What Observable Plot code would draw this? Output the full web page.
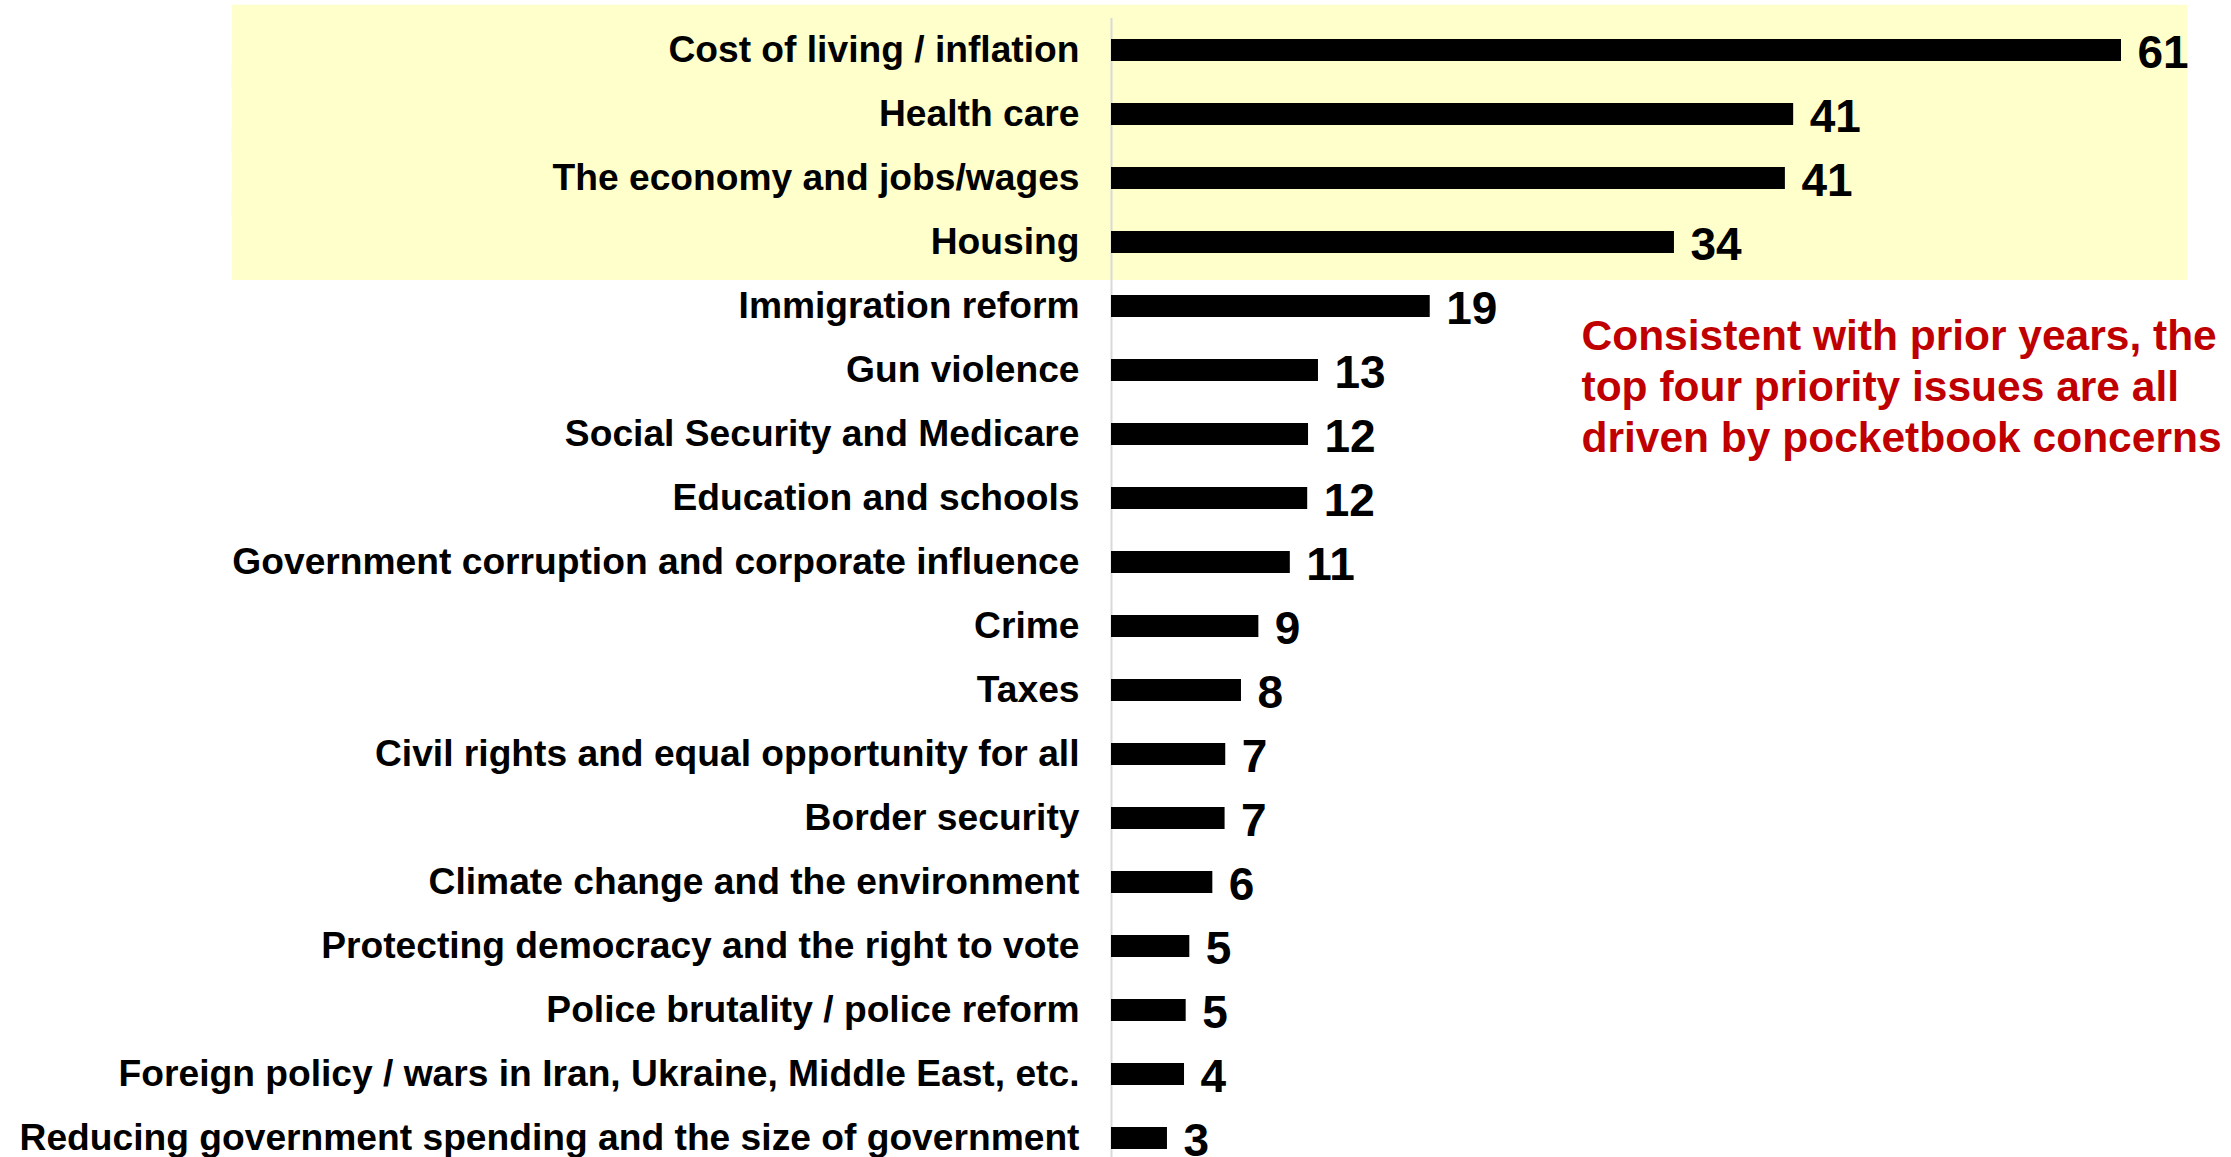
<!DOCTYPE html>
<html>
<head>
<meta charset="utf-8">
<script src="https://cdn.jsdelivr.net/npm/d3@7"></script>
<script src="https://cdn.jsdelivr.net/npm/@observablehq/plot@0.6"></script>
<style>
  html, body { margin: 0; padding: 0; background: #ffffff; }
  #chart svg { display: block; }
</style>
</head>
<body>
<div id="chart"></div>
<script>
// Categories (top to bottom)
const issues = [
  "Cost of living / inflation",
  "Health care",
  "The economy and jobs/wages",
  "Housing",
  "Immigration reform",
  "Gun violence",
  "Social Security and Medicare",
  "Education and schools",
  "Government corruption and corporate influence",
  "Crime",
  "Taxes",
  "Civil rights and equal opportunity for all",
  "Border security",
  "Climate change and the environment",
  "Protecting democracy and the right to vote",
  "Police brutality / police reform",
  "Foreign policy / wars in Iran, Ukraine, Middle East, etc.",
  "Reducing government spending and the size of government"
];

// Bar lengths (percent)
const values = [61, 41.2, 40.7, 34, 19.25, 12.5, 11.9, 11.85, 10.8, 8.9, 7.85, 6.9, 6.86, 6.12, 4.73, 4.51, 4.41, 3.38];

// Value labels as printed
const valueLabels = ["61", "41", "41", "34", "19", "13", "12", "12", "11", "9", "8", "7", "7", "6", "5", "5", "4", "3"];

// Highlighted (top four) issues
const highlighted = issues.slice(0, 4);

// Annotation
const noteLines = [
  "Consistent with prior years, the",
  "top four priority issues are all",
  "driven by pocketbook concerns"
];

const data = issues.map((issue, i) => ({issue, value: values[i], label: valueLabels[i]}));
const maxValue = d3.max(values);

const chart = Plot.plot({
  width: 2231,
  height: 1157,
  marginLeft: 1111,
  marginRight: 110,
  marginTop: 18,
  marginBottom: 0,
  style: {
    fontFamily: "'Liberation Sans', Arial, Helvetica, sans-serif",
    fontWeight: "bold",
    background: "#ffffff",
    overflow: "visible"
  },
  x: {domain: [0, maxValue], axis: null},
  y: {
    type: "band",
    domain: issues,
    range: [18.5, 1170.5],
    paddingInner: 0.65,
    paddingOuter: 0.325,
    align: 0.5,
    axis: null
  },
  marks: [
    // yellow highlight behind the top four issues
    Plot.barX(highlighted, {
      y: d => d,
      x1: 0,
      x2: maxValue,
      fill: "#FFFFCC",
      insetTop: -34.3,
      insetBottom: -27,
      insetLeft: -879.4,
      insetRight: -66
    }),
    // axis line
    Plot.ruleX([0], {stroke: "#d9d9d9", strokeWidth: 2}),
    // bars
    Plot.barX(data, {y: "issue", x: "value", fill: "#000000"}),
    // category labels
    Plot.text(data, {
      y: "issue",
      text: "issue",
      frameAnchor: "left",
      textAnchor: "end",
      dx: -32,
      dy: 0,
      fontSize: 37.2,
      fontWeight: "bold",
      fill: "#000000"
    }),
    // value labels
    Plot.text(data, {
      y: "issue",
      x: "value",
      text: "label",
      textAnchor: "start",
      dx: 16,
      dy: 3,
      fontSize: 46,
      fontWeight: "bold",
      fill: "#000000"
    }),
    // annotation
    Plot.text([noteLines.join("\n")], {
      frameAnchor: "top-left",
      text: d => d,
      textAnchor: "start",
      lineAnchor: "top",
      lineHeight: 1.19,
      dx: 470,
      dy: 296,
      fontSize: 42.5,
      fontWeight: "bold",
      fill: "#C00000"
    })
  ]
});

document.getElementById("chart").appendChild(chart);
</script>
</body>
</html>
